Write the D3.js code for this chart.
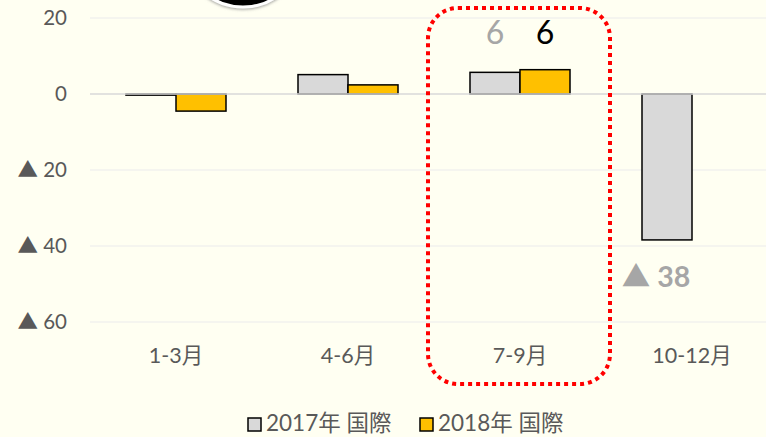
<!DOCTYPE html>
<html>
<head>
<meta charset="utf-8">
<script src="https://cdn.jsdelivr.net/npm/d3@7"></script>
<style>
  html, body { margin: 0; padding: 0; background: #FFFFF2; }
  svg { display: block; }
  text { font-family: Lato, "Noto Sans CJK JP", sans-serif; }
</style>
</head>
<body>
<svg id="chart" width="766" height="437"></svg>
<script>
const categories = ["1-3月", "4-6月", "7-9月", "10-12月"];
const seriesNames = ["2017年 国際", "2018年 国際"];
const values2017 = [-0.3, 5.1, 5.7, -38.4];
const values2018 = [-4.5, 2.4, 6.4, null];
const yTicks = [20, 0, -20, -40, -60];
const barLabels = [
  { cat: "7-9月", series: 0, text: "6", color: "#A6A6A6" },
  { cat: "7-9月", series: 1, text: "6", color: "#000000" },
  { cat: "10-12月", series: 0, text: "▲ 38", color: "#A6A6A6" }
];
const colors = ["#D9D9D9", "#FFC000"];

const svg = d3.select("#chart");
const W = 766, H = 437;
const plotLeft = 90, plotRight = 778, plotTop = 18, plotBottom = 322;

svg.append("rect").attr("width", W).attr("height", H).attr("fill", "#FFFFF2");

const x = d3.scaleBand().domain(categories).range([plotLeft, plotRight]).padding(0);
const xs = d3.scaleBand().domain([0, 1]).range([0, x.bandwidth()]).paddingInner(0).paddingOuter(0.72);
const y = d3.scaleLinear().domain([-60, 20]).range([plotBottom, plotTop]);

// decorative circle at the top (cut off)
const defs = svg.append("defs");
const f = defs.append("filter").attr("id", "sh").attr("x", "-30%").attr("y", "-30%").attr("width", "160%").attr("height", "160%");
f.append("feDropShadow").attr("dx", 0).attr("dy", 1).attr("stdDeviation", 1.5).attr("flood-color", "#888").attr("flood-opacity", 0.8);
svg.append("circle").attr("cx", 243).attr("cy", -53).attr("r", 60)
  .attr("fill", "#000").attr("stroke", "#fff").attr("stroke-width", 3).attr("filter", "url(#sh)");

// gridlines
svg.append("g").selectAll("line").data(yTicks.filter(d => d !== 0)).join("line")
  .attr("x1", plotLeft).attr("x2", plotRight)
  .attr("y1", d => y(d)).attr("y2", d => y(d))
  .attr("stroke", "#ECECEC").attr("stroke-width", 1.2);

// y axis labels
const yAxis = d3.axisLeft(y).tickValues(yTicks).tickSize(0).tickPadding(0)
  .tickFormat(d => d < 0 ? "▲ " + Math.abs(d) : String(d));
const gy = svg.append("g").attr("transform", `translate(67,0)`).call(yAxis);
gy.select(".domain").remove();
gy.selectAll("text").attr("fill", "#595959").attr("font-size", 20.5)
  .attr("font-family", 'Lato, "DejaVu Sans", sans-serif');

// bars
const series = [values2017, values2018];
const g = svg.append("g");
categories.forEach((c, i) => {
  series.forEach((vals, s) => {
    const v = vals[i];
    if (v === null || v === undefined) return;
    g.append("rect")
      .attr("x", x(c) + xs(s))
      .attr("width", xs.bandwidth())
      .attr("y", y(Math.max(0, v)))
      .attr("height", Math.max(0.5, Math.abs(y(v) - y(0))))
      .attr("fill", colors[s])
      .attr("stroke", "#000").attr("stroke-width", 1.5);
  });
});

// zero line
svg.append("line").attr("x1", plotLeft).attr("x2", plotRight)
  .attr("y1", y(0)).attr("y2", y(0)).attr("stroke", "#D9D9D9").attr("stroke-width", 1.5);

// x labels
const xAxis = d3.axisBottom(x).tickSize(0).tickPadding(0);
const gx = svg.append("g").attr("transform", `translate(0,${plotBottom + 26})`).call(xAxis);
gx.select(".domain").remove();
gx.selectAll("text").attr("fill", "#595959").attr("font-size", 21.5).attr("dy", "0.72em");

// bar labels
barLabels.forEach(l => {
  const i = categories.indexOf(l.cat);
  const v = series[l.series][i];
  const cx = x(l.cat) + xs(l.series) + xs.bandwidth() / 2;
  if (v >= 0) {
    svg.append("text").attr("x", cx).attr("y", y(6) - 27)
      .attr("text-anchor", "middle").attr("font-size", 32).attr("fill", l.color).text(l.text);
  } else {
    svg.append("text").attr("x", cx - 11).attr("y", y(v) + 47)
      .attr("text-anchor", "middle").attr("font-size", 28.5).attr("font-weight", "bold")
      .attr("fill", l.color).text(l.text);
  }
});

// highlight dotted rounded rectangle around 7-9月
const hx = x("7-9月");
svg.append("rect").attr("x", hx - 6).attr("y", 8)
  .attr("width", x.bandwidth() + 10).attr("height", 376)
  .attr("rx", 30).attr("ry", 30)
  .attr("fill", "none").attr("stroke", "#FF0000").attr("stroke-width", 4)
  .attr("stroke-dasharray", "4 4");

// legend
const legend = svg.append("g");
const legX = [248, 420];
seriesNames.forEach((n, s) => {
  legend.append("rect").attr("x", legX[s]).attr("y", 418).attr("width", 13).attr("height", 13)
    .attr("fill", colors[s]).attr("stroke", "#000").attr("stroke-width", 1.5);
  legend.append("text").attr("x", legX[s] + 18).attr("y", 431)
    .attr("font-size", 22.5).attr("fill", "#595959").text(n);
});
</script>
</body>
</html>
